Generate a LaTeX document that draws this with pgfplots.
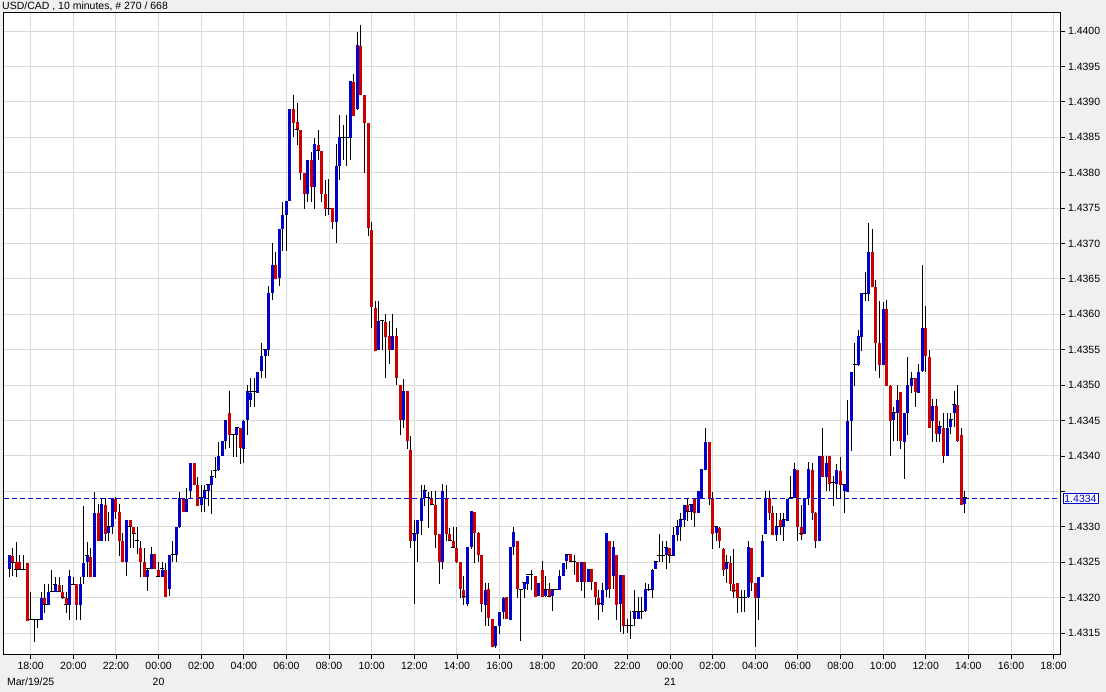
\documentclass[border=0pt]{standalone}
\usepackage{pgfplots}
\pgfplotsset{compat=1.18}
\usepackage{pgfplotstable}
\usepackage{fontspec}
\setmainfont{Liberation Sans}

\definecolor{upblue}{RGB}{0,0,204}
\definecolor{dnred}{RGB}{204,0,0}
\definecolor{panel}{RGB}{240,240,240}
\definecolor{gridc}{RGB}{218,218,218}

% USD/CAD 10-minute candles, open high low close
\pgfplotstableread{
o h l c
1.43240 1.43259 1.43230 1.43259
1.43259 1.43270 1.43230 1.43250
1.43250 1.43279 1.43230 1.43240
1.43250 1.43259 1.43240 1.43240
1.43240 1.43259 1.43240 1.43240
1.43250 1.43250 1.43169 1.43169
1.43169 1.43209 1.43169 1.43169
1.43169 1.43169 1.43138 1.43169
1.43169 1.43169 1.43158 1.43169
1.43169 1.43209 1.43169 1.43200
1.43200 1.43219 1.43178 1.43190
1.43190 1.43219 1.43190 1.43209
1.43209 1.43239 1.43209 1.43209
1.43209 1.43230 1.43209 1.43219
1.43219 1.43230 1.43209 1.43209
1.43209 1.43219 1.43200 1.43200
1.43200 1.43209 1.43178 1.43190
1.43190 1.43239 1.43169 1.43230
1.43219 1.43230 1.43219 1.43219
1.43219 1.43219 1.43169 1.43190
1.43190 1.43230 1.43169 1.43219
1.43230 1.43330 1.43219 1.43250
1.43250 1.43279 1.43230 1.43259
1.43259 1.43270 1.43230 1.43230
1.43230 1.43350 1.43230 1.43320
1.43320 1.43333 1.43281 1.43281
1.43281 1.43342 1.43281 1.43332
1.43332 1.43342 1.43281 1.43291
1.43291 1.43322 1.43281 1.43300
1.43300 1.43341 1.43291 1.43341
1.43341 1.43342 1.43311 1.43322
1.43322 1.43332 1.43259 1.43281
1.43281 1.43291 1.43251 1.43251
1.43251 1.43310 1.43230 1.43310
1.43310 1.43310 1.43271 1.43300
1.43300 1.43300 1.43271 1.43291
1.43281 1.43300 1.43262 1.43281
1.43271 1.43281 1.43230 1.43251
1.43251 1.43271 1.43230 1.43230
1.43230 1.43241 1.43210 1.43241
1.43241 1.43271 1.43241 1.43261
1.43261 1.43261 1.43241 1.43241
1.43241 1.43251 1.43230 1.43230
1.43230 1.43251 1.43230 1.43241
1.43241 1.43251 1.43202 1.43202
1.43212 1.43261 1.43202 1.43261
1.43261 1.43281 1.43251 1.43261
1.43261 1.43300 1.43251 1.43300
1.43300 1.43351 1.43300 1.43341
1.43341 1.43341 1.43322 1.43322
1.43322 1.43355 1.43321 1.43341
1.43351 1.43391 1.43341 1.43391
1.43391 1.43391 1.43360 1.43360
1.43360 1.43371 1.43331 1.43331
1.43331 1.43360 1.43321 1.43341
1.43341 1.43360 1.43321 1.43351
1.43351 1.43360 1.43331 1.43360
1.43360 1.43380 1.43318 1.43371
1.43380 1.43400 1.43370 1.43380
1.43380 1.43421 1.43380 1.43400
1.43400 1.43421 1.43400 1.43421
1.43421 1.43451 1.43411 1.43451
1.43461 1.43491 1.43411 1.43431
1.43430 1.43430 1.43400 1.43430
1.43430 1.43440 1.43400 1.43440
1.43440 1.43440 1.43390 1.43411
1.43411 1.43451 1.43390 1.43451
1.43451 1.43501 1.43430 1.43491
1.43480 1.43511 1.43470 1.43491
1.43491 1.43511 1.43470 1.43491
1.43491 1.43520 1.43491 1.43520
1.43520 1.43560 1.43511 1.43541
1.43541 1.43550 1.43511 1.43550
1.43550 1.43640 1.43541 1.43630
1.43630 1.43701 1.43621 1.43670
1.43670 1.43690 1.43651 1.43651
1.43651 1.43721 1.43640 1.43721
1.43721 1.43760 1.43690 1.43741
1.43740 1.43760 1.43690 1.43760
1.43760 1.43890 1.43760 1.43890
1.43890 1.43910 1.43850 1.43871
1.43871 1.43900 1.43840 1.43861
1.43860 1.43860 1.43790 1.43800
1.43800 1.43800 1.43750 1.43771
1.43771 1.43819 1.43760 1.43819
1.43819 1.43831 1.43760 1.43780
1.43780 1.43850 1.43750 1.43840
1.43840 1.43860 1.43819 1.43831
1.43831 1.43831 1.43760 1.43771
1.43771 1.43790 1.43740 1.43750
1.43750 1.43791 1.43740 1.43750
1.43750 1.43750 1.43720 1.43731
1.43731 1.43840 1.43700 1.43810
1.43810 1.43882 1.43790 1.43850
1.43850 1.43868 1.43819 1.43850
1.43850 1.43882 1.43810 1.43850
1.43850 1.43930 1.43819 1.43930
1.43930 1.43940 1.43881 1.43881
1.43890 1.44000 1.43890 1.43980
1.43980 1.44010 1.43910 1.43910
1.43910 1.43910 1.43800 1.43871
1.43871 1.43871 1.43711 1.43722
1.43720 1.43731 1.43581 1.43611
1.43611 1.43620 1.43550 1.43550
1.43550 1.43620 1.43550 1.43591
1.43591 1.43591 1.43550 1.43591
1.43591 1.43600 1.43510 1.43570
1.43570 1.43591 1.43530 1.43550
1.43550 1.43600 1.43550 1.43570
1.43570 1.43581 1.43500 1.43510
1.43500 1.43500 1.43430 1.43451
1.43451 1.43510 1.43440 1.43491
1.43491 1.43491 1.43410 1.43421
1.43410 1.43429 1.43271 1.43281
1.43281 1.43310 1.43191 1.43290
1.43290 1.43310 1.43250 1.43310
1.43310 1.43360 1.43290 1.43341
1.43341 1.43360 1.43331 1.43351
1.43341 1.43351 1.43300 1.43341
1.43341 1.43351 1.43332 1.43332
1.43332 1.43351 1.43271 1.43290
1.43290 1.43290 1.43221 1.43251
1.43251 1.43360 1.43240 1.43351
1.43341 1.43360 1.43281 1.43290
1.43290 1.43300 1.43281 1.43281
1.43281 1.43300 1.43271 1.43271
1.43271 1.43300 1.43250 1.43251
1.43251 1.43251 1.43200 1.43212
1.43212 1.43232 1.43190 1.43201
1.43192 1.43272 1.43189 1.43272
1.43272 1.43322 1.43269 1.43322
1.43322 1.43322 1.43250 1.43292
1.43292 1.43292 1.43250 1.43261
1.43261 1.43261 1.43180 1.43192
1.43192 1.43221 1.43161 1.43212
1.43212 1.43221 1.43161 1.43171
1.43171 1.43171 1.43132 1.43132
1.43132 1.43161 1.43130 1.43161
1.43161 1.43181 1.43150 1.43181
1.43181 1.43201 1.43170 1.43201
1.43201 1.43201 1.43170 1.43170
1.43170 1.43272 1.43170 1.43272
1.43272 1.43301 1.43261 1.43292
1.43281 1.43281 1.43201 1.43212
1.43212 1.43212 1.43140 1.43212
1.43212 1.43221 1.43201 1.43221
1.43221 1.43232 1.43212 1.43232
1.43232 1.43241 1.43212 1.43232
1.43232 1.43232 1.43202 1.43202
1.43202 1.43221 1.43202 1.43221
1.43241 1.43252 1.43202 1.43202
1.43202 1.43232 1.43202 1.43212
1.43212 1.43221 1.43202 1.43202
1.43202 1.43212 1.43181 1.43212
1.43212 1.43212 1.43212 1.43212
1.43212 1.43241 1.43212 1.43232
1.43232 1.43251 1.43232 1.43251
1.43251 1.43261 1.43241 1.43261
1.43261 1.43261 1.43251 1.43251
1.43251 1.43261 1.43232 1.43251
1.43251 1.43251 1.43222 1.43222
1.43222 1.43251 1.43210 1.43251
1.43251 1.43251 1.43201 1.43222
1.43222 1.43241 1.43222 1.43241
1.43241 1.43241 1.43212 1.43222
1.43222 1.43222 1.43191 1.43201
1.43201 1.43212 1.43170 1.43191
1.43191 1.43222 1.43181 1.43212
1.43212 1.43292 1.43201 1.43292
1.43281 1.43281 1.43201 1.43212
1.43232 1.43281 1.43212 1.43272
1.43261 1.43261 1.43170 1.43191
1.43191 1.43232 1.43151 1.43232
1.43232 1.43232 1.43149 1.43161
1.43161 1.43170 1.43151 1.43161
1.43161 1.43181 1.43141 1.43161
1.43170 1.43212 1.43161 1.43181
1.43170 1.43201 1.43170 1.43181
1.43181 1.43201 1.43170 1.43181
1.43181 1.43222 1.43181 1.43212
1.43211 1.43220 1.43211 1.43211
1.43212 1.43241 1.43200 1.43241
1.43241 1.43251 1.43241 1.43251
1.43260 1.43290 1.43250 1.43260
1.43260 1.43281 1.43250 1.43260
1.43260 1.43281 1.43241 1.43270
1.43270 1.43270 1.43250 1.43260
1.43260 1.43300 1.43260 1.43290
1.43290 1.43310 1.43281 1.43300
1.43300 1.43321 1.43281 1.43310
1.43310 1.43331 1.43300 1.43331
1.43331 1.43341 1.43310 1.43321
1.43321 1.43331 1.43309 1.43331
1.43341 1.43341 1.43300 1.43321
1.43321 1.43351 1.43321 1.43351
1.43341 1.43381 1.43341 1.43381
1.43381 1.43441 1.43381 1.43421
1.43421 1.43421 1.43331 1.43341
1.43341 1.43351 1.43270 1.43291
1.43291 1.43300 1.43281 1.43300
1.43300 1.43300 1.43270 1.43281
1.43270 1.43270 1.43230 1.43241
1.43241 1.43260 1.43221 1.43250
1.43250 1.43260 1.43210 1.43221
1.43221 1.43270 1.43200 1.43210
1.43221 1.43221 1.43180 1.43200
1.43200 1.43210 1.43180 1.43200
1.43200 1.43210 1.43180 1.43200
1.43201 1.43281 1.43201 1.43271
1.43271 1.43271 1.43210 1.43221
1.43221 1.43221 1.43130 1.43201
1.43201 1.43230 1.43170 1.43230
1.43230 1.43290 1.43230 1.43281
1.43290 1.43351 1.43290 1.43341
1.43341 1.43351 1.43310 1.43321
1.43321 1.43331 1.43290 1.43290
1.43290 1.43321 1.43281 1.43300
1.43310 1.43321 1.43290 1.43300
1.43300 1.43321 1.43281 1.43310
1.43310 1.43341 1.43310 1.43341
1.43341 1.43372 1.43341 1.43341
1.43341 1.43391 1.43341 1.43381
1.43381 1.43381 1.43281 1.43300
1.43300 1.43331 1.43281 1.43290
1.43290 1.43341 1.43290 1.43341
1.43341 1.43391 1.43331 1.43381
1.43381 1.43391 1.43310 1.43321
1.43321 1.43321 1.43270 1.43281
1.43281 1.43401 1.43281 1.43401
1.43401 1.43441 1.43372 1.43372
1.43372 1.43401 1.43351 1.43391
1.43401 1.43401 1.43351 1.43362
1.43362 1.43372 1.43330 1.43362
1.43362 1.43389 1.43340 1.43381
1.43380 1.43400 1.43340 1.43360
1.43350 1.43360 1.43320 1.43360
1.43350 1.43480 1.43350 1.43450
1.43450 1.43520 1.43409 1.43520
1.43529 1.43560 1.43499 1.43529
1.43529 1.43580 1.43529 1.43569
1.43569 1.43630 1.43549 1.43630
1.43630 1.43660 1.43619 1.43630
1.43630 1.43730 1.43619 1.43689
1.43689 1.43720 1.43640 1.43640
1.43640 1.43649 1.43520 1.43560
1.43560 1.43619 1.43510 1.43529
1.43529 1.43619 1.43529 1.43609
1.43609 1.43619 1.43500 1.43500
1.43500 1.43500 1.43400 1.43450
1.43450 1.43470 1.43421 1.43461
1.43461 1.43500 1.43421 1.43480
1.43490 1.43490 1.43409 1.43421
1.43421 1.43461 1.43369 1.43461
1.43461 1.43540 1.43430 1.43500
1.43500 1.43520 1.43490 1.43510
1.43510 1.43510 1.43470 1.43490
1.43490 1.43531 1.43490 1.43520
1.43520 1.43671 1.43520 1.43581
1.43581 1.43612 1.43520 1.43541
1.43541 1.43550 1.43441 1.43441
1.43450 1.43481 1.43420 1.43472
1.43472 1.43481 1.43420 1.43432
1.43432 1.43450 1.43420 1.43441
1.43441 1.43461 1.43391 1.43401
1.43401 1.43461 1.43401 1.43441
1.43441 1.43461 1.43432 1.43452
1.43461 1.43492 1.43441 1.43472
1.43472 1.43501 1.43421 1.43421
1.43432 1.43441 1.43332 1.43332
1.43332 1.43351 1.43321 1.43341
}\candles

\begin{document}
\begin{tikzpicture}[x=1pt,y=1pt]
\fill[panel] (-3.5,-37) rectangle (1102.5,655);
\useasboundingbox (-3.5,-37) rectangle (1102.5,655);
\begin{axis}[
  at={(0,0)}, anchor=south west,
  scale only axis, width=1057pt, height=642.7pt,
  xmin=3.5, xmax=1060.5,
  ymin=1.431189, ymax=1.440264,
  axis background/.style={fill=white},
  axis line style={black, line width=1pt},
  grid=major, major grid style={gridc, line width=0.9pt},
  xtick={30.70,73.32,115.94,158.56,201.18,243.80,286.42,329.04,371.66,414.28,456.90,499.52,542.14,584.76,627.38,670.00,712.62,755.24,797.86,840.48,883.10,925.72,968.34,1010.96,1053.58},
  xticklabels={{18:00\\Mar/19/25},20:00,22:00,{00:00\\20},02:00,04:00,06:00,08:00,10:00,12:00,14:00,16:00,18:00,20:00,22:00,{00:00\\21},02:00,04:00,06:00,08:00,10:00,12:00,14:00,16:00,18:00},
  ytick={1.4315,1.4320,1.4325,1.4330,1.4335,1.4340,1.4345,1.4350,1.4355,1.4360,1.4365,1.4370,1.4375,1.4380,1.4385,1.4390,1.4395,1.4400},
  yticklabels={1.4315,1.4320,1.4325,1.4330,,1.4340,1.4345,1.4350,1.4355,1.4360,1.4365,1.4370,1.4375,1.4380,1.4385,1.4390,1.4395,1.4400},
  xtick pos=bottom, ytick pos=right, yticklabel pos=right,
  tick align=outside, major tick length=4pt,
  tick style={black, line width=0.8pt},
  yticklabel style={font=\fontsize{10.5}{12}\selectfont},
  xticklabel style={font=\fontsize{10.5}{16}\selectfont, align=center},
]
% wicks
\addplot[draw=none, mark=none, forget plot,
  error bars/.cd, y dir=both, y explicit, error mark=none,
  error bar style={draw=black, line width=1pt}]
  table[x expr=9.3+3.552*\coordindex, y expr={(\thisrow{h}+\thisrow{l})/2}, y error expr={(\thisrow{h}-\thisrow{l})/2}] {\candles};
% rising bodies
\addplot[draw=none, mark=none, forget plot, restrict y to domain=1.4:1.5,
  error bars/.cd, y dir=both, y explicit, error mark=none,
  error bar style={draw=upblue, line width=3pt}]
  table[x expr=9.3+3.552*\coordindex, y expr={\thisrow{c}>\thisrow{o} ? (\thisrow{o}+\thisrow{c})/2 : 0}, y error expr={abs(\thisrow{c}-\thisrow{o})/2}] {\candles};
% falling bodies
\addplot[draw=none, mark=none, forget plot, restrict y to domain=1.4:1.5,
  error bars/.cd, y dir=both, y explicit, error mark=none,
  error bar style={draw=dnred, line width=3pt}]
  table[x expr=9.3+3.552*\coordindex, y expr={\thisrow{c}<\thisrow{o} ? (\thisrow{o}+\thisrow{c})/2 : 0}, y error expr={abs(\thisrow{c}-\thisrow{o})/2}] {\candles};
% unchanged
\addplot[only marks, mark=-, mark size=2pt, mark options={black, line width=1pt}, forget plot, restrict y to domain=1.4:1.5]
  table[x expr=9.3+3.552*\coordindex, y expr={\thisrow{c}==\thisrow{o} ? \thisrow{c} : 0}] {\candles};
% last price
\addplot[upblue, line width=1pt, dash pattern=on 5pt off 3pt, forget plot] coordinates {(3.5,1.4334) (1060.5,1.4334)};
\coordinate (tag) at (axis cs:1060.5,1.4334);
\end{axis}
\node[anchor=west, draw=upblue, fill=white, text=upblue, inner xsep=1.5pt, inner ysep=1.5pt, line width=0.8pt, font=\fontsize{10.5}{12}\selectfont, xshift=2pt] at (tag) {1.4334};
\node[anchor=base west, inner sep=0, font=\fontsize{10.5}{12}\selectfont] at (-1.5,645.5) {USD/CAD , 10 minutes, \# 270 / 668};
\end{tikzpicture}
\end{document}
